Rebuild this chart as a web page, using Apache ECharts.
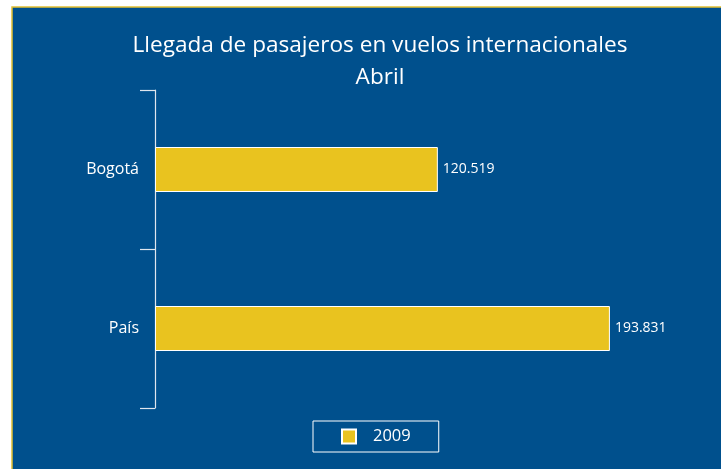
<!DOCTYPE html>
<html>
<head>
<meta charset="utf-8">
<script src="https://cdn.jsdelivr.net/npm/echarts@6/dist/echarts.min.js"></script>
<style>
  html, body { margin: 0; padding: 0; background: #ffffff; }
  #chart { width: 721px; height: 469px; }
</style>
</head>
<body>
<div id="chart"></div>
<script>
// Данные графика
const categories = ['Bogotá', 'País'];
const values2009 = [120519, 193831];
const seriesName = '2009';

const BLUE = '#00508d';
const YELLOW = '#e9c31f';

function formatMiles(v) {
    return String(v).replace(/\B(?=(\d{3})+(?!\d))/g, '.');
}

const chart = echarts.init(document.getElementById('chart'));

const option = {
    backgroundColor: '#ffffff',
    textStyle: { fontFamily: 'Open Sans' },
    graphic: [{
        type: 'rect',
        z: -10,
        shape: { x: 12, y: 7, width: 720, height: 470 },
        style: { fill: BLUE, stroke: '#e2c032', lineWidth: 1.5 }
    }],
    title: {
        text: 'Llegada de pasajeros en vuelos internacionales\nAbril',
        left: 375,
        top: 25,
        textAlign: 'center',
        textStyle: {
            color: '#ffffff',
            fontSize: 22.6,
            fontWeight: 'normal',
            lineHeight: 32
        }
    },
    legend: {
        data: [seriesName],
        left: 313,
        top: 421,
        orient: 'horizontal',
        borderColor: '#ffffff',
        borderWidth: 1,
        padding: [7, 28, 7, 28],
        itemWidth: 14,
        itemHeight: 14,
        icon: 'rect',
        textStyle: { color: '#ffffff', fontSize: 16.5, padding: [0, 0, 0, 12] }
    },
    grid: {
        left: 155,
        top: 90,
        width: 469.4,
        height: 318
    },
    xAxis: {
        type: 'value',
        min: 0,
        max: 200000,
        show: false
    },
    yAxis: {
        type: 'category',
        data: categories,
        inverse: true,
        axisLine: { show: true, lineStyle: { color: '#dfe6ee', width: 1.2 } },
        axisTick: { show: true, alignWithLabel: false, length: 15, lineStyle: { color: '#dfe6ee', width: 1.2 } },
        axisLabel: { color: '#ffffff', fontSize: 16, margin: 16 }
    },
    series: [{
        name: seriesName,
        type: 'bar',
        data: values2009,
        barWidth: 45,
        itemStyle: { color: YELLOW, borderColor: '#ffffff', borderWidth: 1 },
        label: {
            show: true,
            position: 'right',
            distance: 5,
            color: '#ffffff',
            fontSize: 14,
            formatter: p => formatMiles(p.value)
        }
    }]
};

chart.setOption(option);
</script>
</body>
</html>
